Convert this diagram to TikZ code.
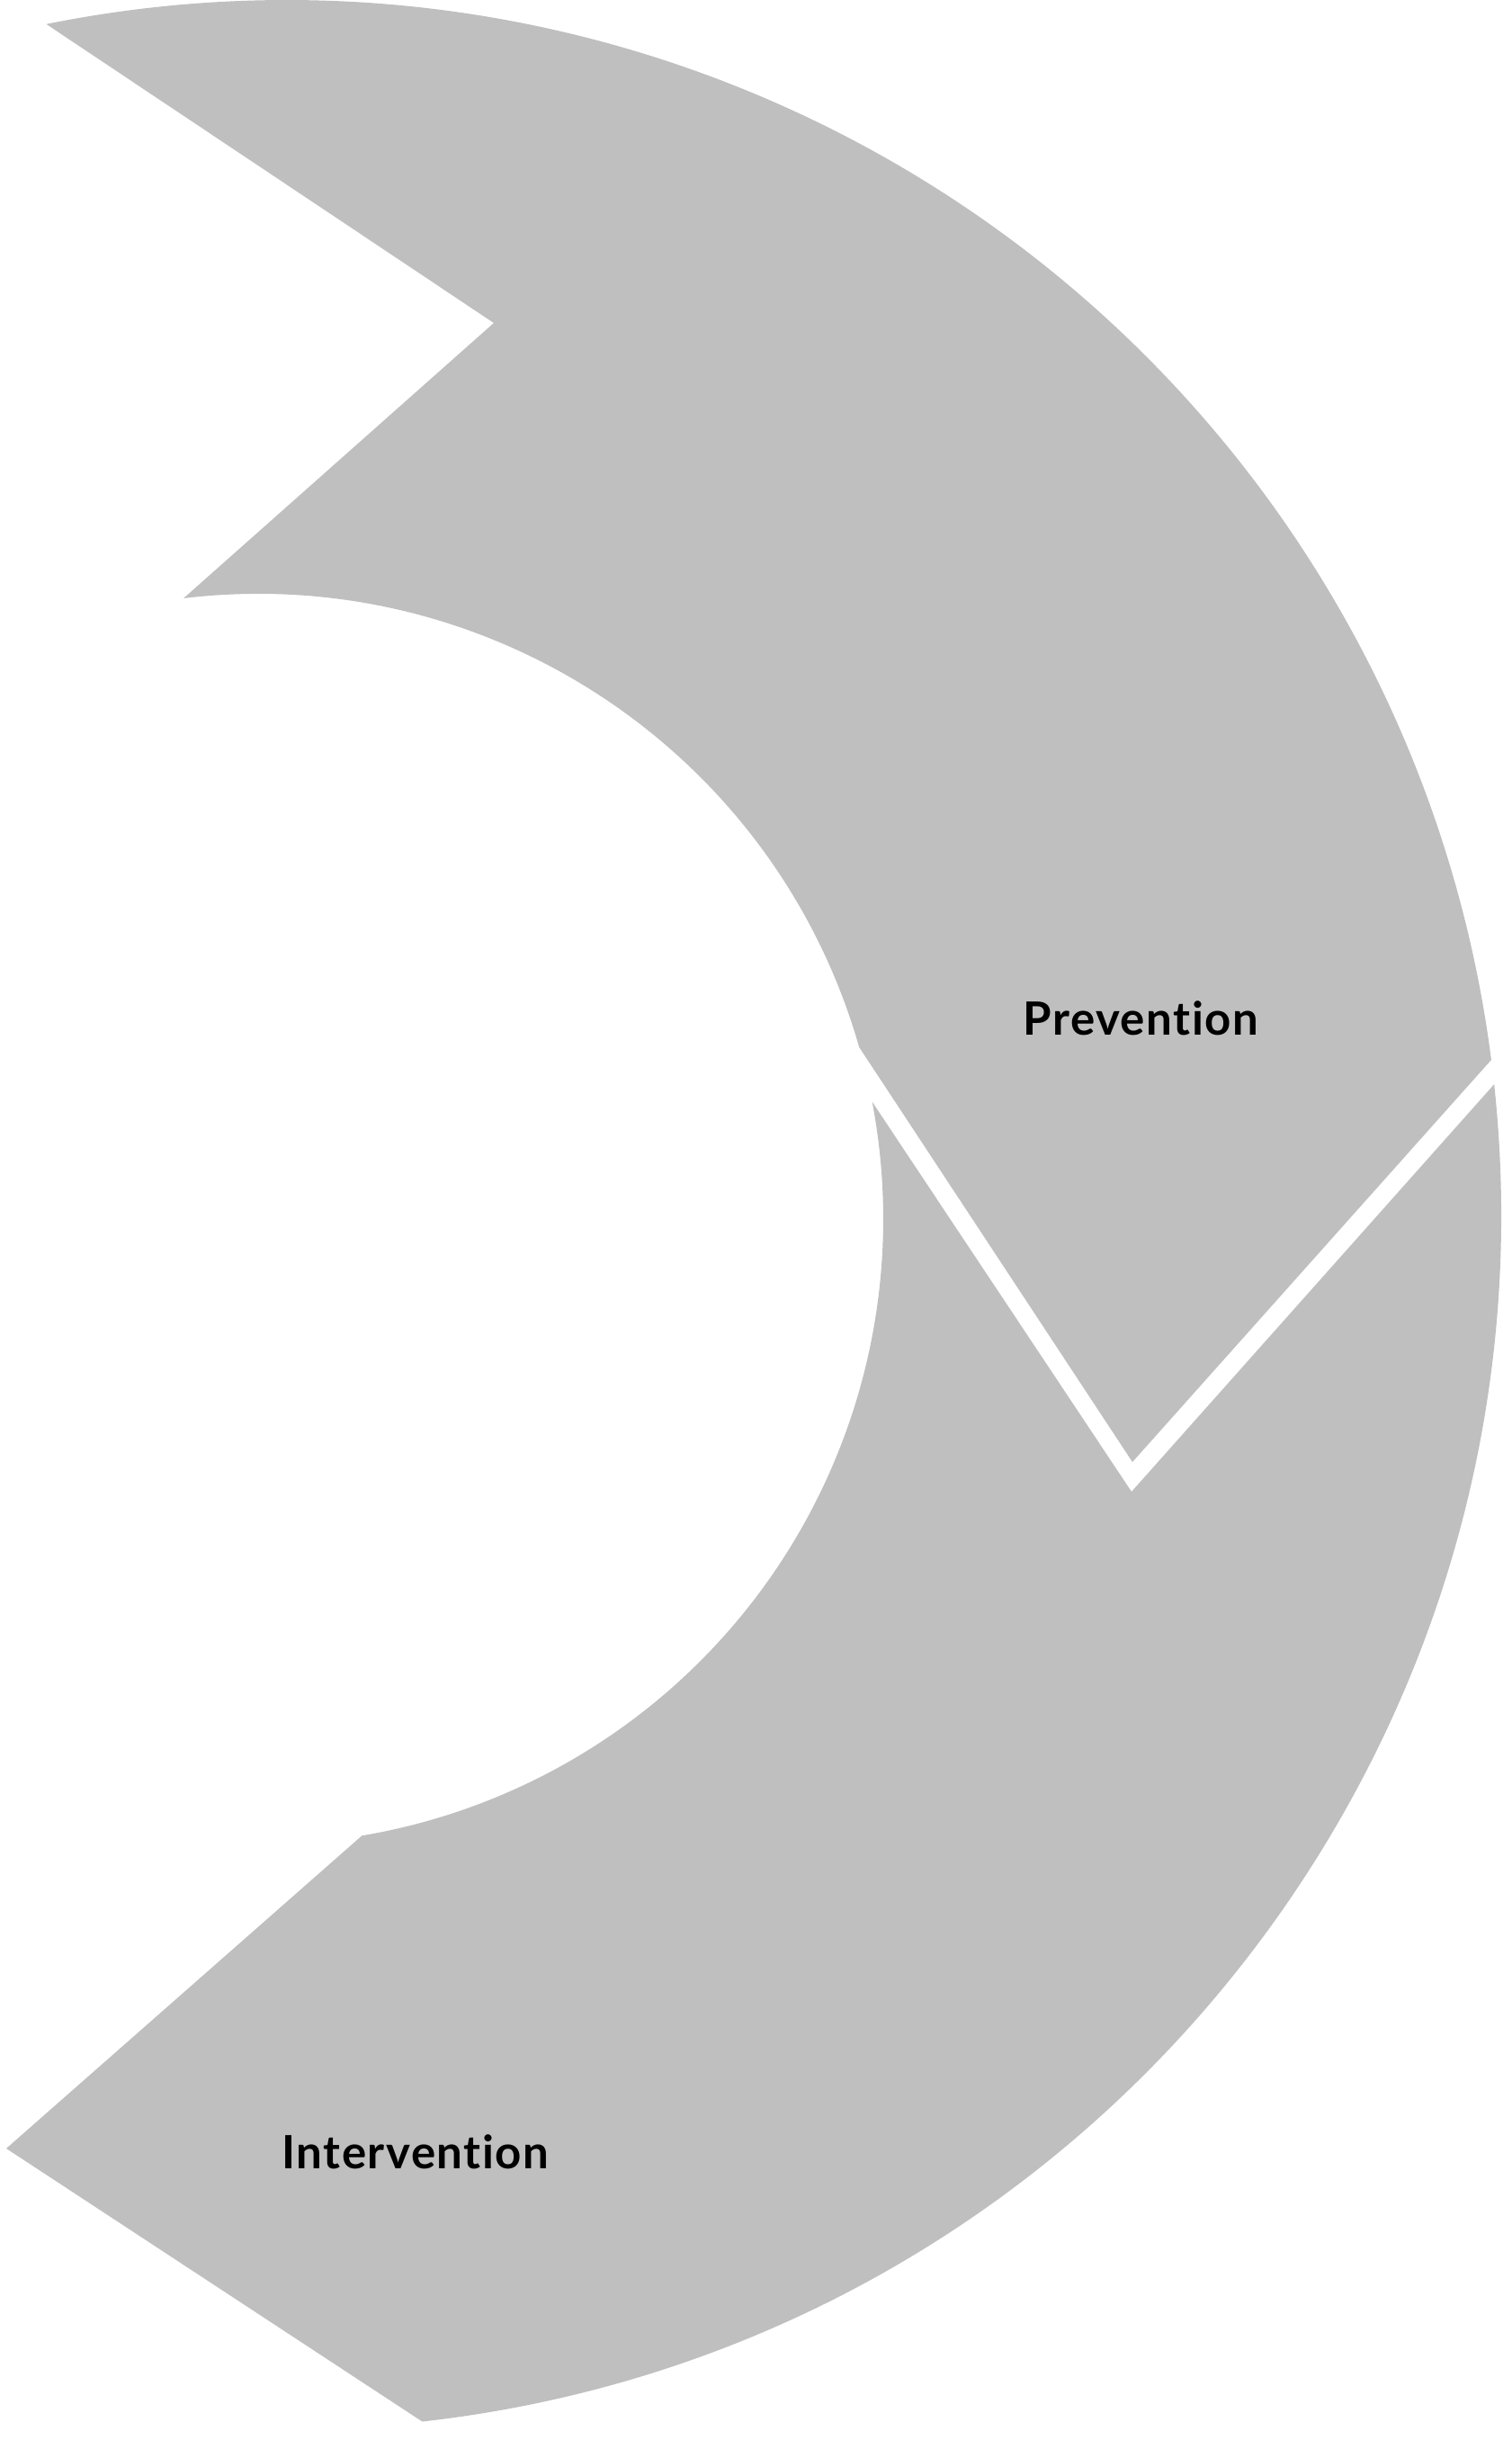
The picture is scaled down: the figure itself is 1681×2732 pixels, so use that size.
\documentclass[tikz,border=0pt]{standalone}
\usepackage{fontspec}
\setmainfont{Lato}[Ligatures=NoCommon,LetterSpace=3]
\usetikzlibrary{calc}
\definecolor{segfill}{RGB}{191,191,191}
\begin{document}
\begin{tikzpicture}[x=0.01cm,y=0.01cm,
  seg/.style={fill=segfill,draw=none},
  lbl/.style={font=\fontsize{14.5}{16}\selectfont\bfseries,text=black,inner sep=0pt,anchor=base west}]
\useasboundingbox (0,0) rectangle (1681,2732);
\coordinate (oc) at (319,1382);
\coordinate (ic) at (287,1377);
% Prevention segment
\coordinate (p1) at ($(oc)+(101.43:1350)$);
\coordinate (p3) at (1259,1107);
\coordinate (p4) at ($(ic)+(15.96:695)$);
\coordinate (p6) at (549,2373);
\fill[seg] (p1) arc[start angle=101.43,end angle=7.32,radius=1350]
  -- (p3) -- (p4) arc[start angle=15.96,end angle=96.85,radius=695]
  -- (p6) -- cycle;
% Intervention segment
\coordinate (q2) at (1258,1074);
\coordinate (q3) at ($(ic)+(10.81:695)$);
\coordinate (q5) at (7,344);
\coordinate (q6) at ($(oc)+(-83.6:1350)$);
\fill[seg] (q3) arc[start angle=10.81,end angle=-80.44,radius=695]
  -- (q5) -- (q6) arc[start angle=-83.6,end angle=6.16,radius=1350]
  -- (q2) -- cycle;
\node[lbl] (prev) at (1137,1581) {Prevention};
\node[lbl] (interv) at (313,321) {Intervention};
\end{tikzpicture}
\end{document}
